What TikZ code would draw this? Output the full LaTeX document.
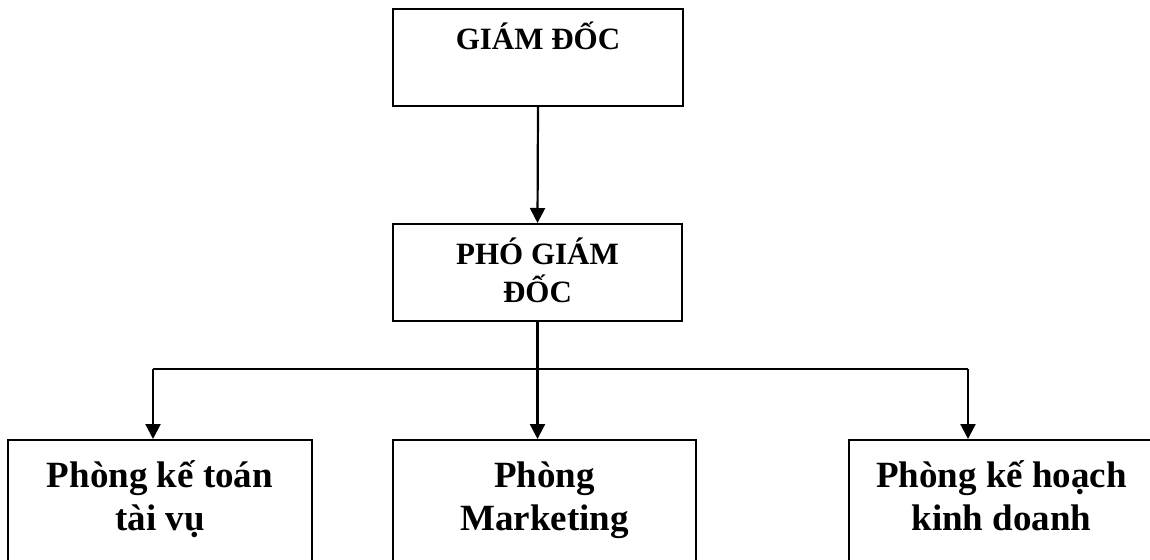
\documentclass[tikz,border=0pt]{standalone}
\usepackage{fontspec}
\setmainfont{Liberation Serif}
\usetikzlibrary{arrows.meta}
\begin{document}
\begin{tikzpicture}[x=1pt,y=-1pt,
  box/.style={draw, line width=2pt, inner sep=0pt, minimum height=#1},
  box/.default=97pt,
  headtext/.style={font=\bfseries\fontsize{31}{38}\selectfont, align=center, inner sep=0pt, anchor=base},
  depttext/.style={font=\bfseries\fontsize{37}{43}\selectfont, align=center, inner sep=0pt, anchor=base},
  link/.style={line width=2.2pt},
  arrowlink/.style={link, -{Triangle[length=15pt,width=15pt]}}]
\useasboundingbox (0,0) rectangle (1150,559);
\clip (0,0) rectangle (1150,559);

% management boxes (text placed by the baseline of its last line)
\node[box, minimum width=290pt] (gd) at (538,57.5) {};
\node[headtext] (gdt) at (538,50) {GIÁM ĐỐC};
\node[box, minimum width=289pt] (pgd) at (537.5,272.5) {};
\node[headtext] (pgdt) at (537.5,302) {PHÓ GIÁM\\ĐỐC};

% department boxes (run past the lower edge)
\node[box=160pt, minimum width=304pt] (kt) at (160,520) {};
\node[box=160pt, minimum width=303pt] (mk) at (544.5,520) {};
\node[box=160pt, minimum width=305pt] (kh) at (1001.5,520) {};
\node[depttext] (ktt) at (160,530) {Phòng kế toán\\tài vụ};
\node[depttext] (mkt) at (544.5,530) {Phòng\\Marketing};
\node[depttext] (kht) at (1001.5,530) {Phòng kế hoạch\\kinh doanh};

% connectors
\coordinate (busL) at (153,369);
\coordinate (busR) at (968,369);
\draw[arrowlink] (gd.south) -- (pgd.north);
\draw[link] (busL) -- (busR);
\draw[arrowlink] (pgd.south) -- (pgd.south |- mk.north);
\draw[arrowlink] (busL) -- (busL |- kt.north);
\draw[arrowlink] (busR) -- (busR |- kh.north);
\end{tikzpicture}
\end{document}
